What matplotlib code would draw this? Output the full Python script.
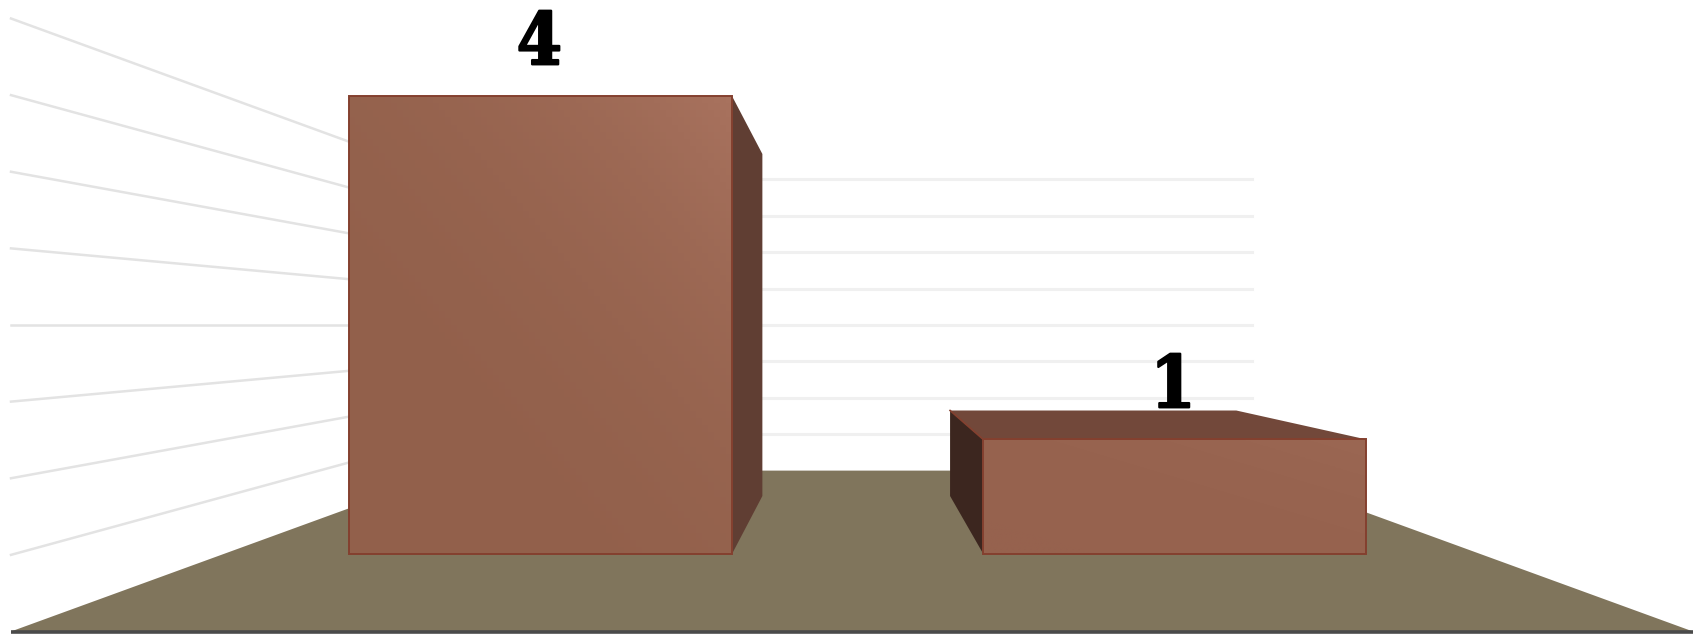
import numpy as np
import matplotlib
matplotlib.use("Agg")
import matplotlib.pyplot as plt
import matplotlib.patheffects as pe
from matplotlib.colors import LinearSegmentedColormap
from matplotlib.patches import Polygon

# chart data
categories = ["A", "B"]
values = [4, 1]
grid_ticks = [0.5, 1.0, 1.5, 2.0, 2.5, 3.0, 3.5, 4.0]

# scene layout, pixels of the 1693x634 canvas
W, H = 1693, 634
CX, CY = 852.0, 325.0      # vanishing point
FRONT_LEFT, FRONT_RIGHT = 11.0, 1693.0
FLOOR_Y = 631.5
FOCAL = 0.905
Y_MAX = 4.0
BAR_WIDTH = 0.61
BAR_CENTERS = [0.504, 1.514]
BAR_Z = (0.308, 0.717)

FLOOR = "#80755c"
EDGE = "#84402f"
BAR_SIDE = "#603e33"
BAR_SIDE_DARK = "#3c261f"
BAR_TOP = "#72483a"
WALL_LEFT = "#e3e3e3"
WALL_BACK = "#f0f0f0"
BASE_LINE = "#4a4a4a"


def project(x, y, z):
    """Category x, value y and depth z (0 front, 1 back) to canvas pixels."""
    s = FOCAL / (FOCAL + z)
    half_w = (FRONT_RIGHT - FRONT_LEFT) / 2
    half_h = FLOOR_Y - CY
    px = CX + (x / len(categories) * 2 - 1) * half_w * s
    py = CY + (1 - y / (Y_MAX / 2)) * half_h * s
    return px, py


def face(ax, corners, color, zorder, edge=EDGE, lw=1.4):
    poly = Polygon([project(*c) for c in corners], closed=True, facecolor=color,
                   edgecolor=edge, linewidth=lw, joinstyle="miter", zorder=zorder)
    ax.add_patch(poly)
    return poly


fig = plt.figure(figsize=(W / 100, H / 100), dpi=100)
ax = fig.add_axes([0, 0, 1, 1])

# floor and walls
face(ax, [(0, 0, 0), (2, 0, 0), (2, 0, 1), (0, 0, 1)], FLOOR, 1, edge="none", lw=0)
for tick in grid_ticks:
    p0, p1, p2 = project(0, tick, 0), project(0, tick, 1), project(2, tick, 1)
    ax.plot([p0[0], p1[0]], [p0[1], p1[1]], color=WALL_LEFT, lw=1.8, zorder=0.5)
    ax.plot([p1[0], p2[0]], [p1[1], p2[1]], color=WALL_BACK, lw=2.2, zorder=0.5)
b0, b1 = project(0, 0, 0), project(2, 0, 0)
ax.plot([b0[0], b1[0]], [b0[1], b1[1]], color=BASE_LINE, lw=2.6, zorder=2,
        solid_capstyle="butt")

# bars
shades = [("#92604b", "#a8725e"), ("#96624e", "#9b6753")]
u, v = np.meshgrid(np.linspace(0, 1, 64), np.linspace(0, 1, 64))
for i, val in enumerate(values):
    x0 = BAR_CENTERS[i] - BAR_WIDTH / 2
    x1 = BAR_CENTERS[i] + BAR_WIDTH / 2
    zf, zb = BAR_Z
    # side face towards the vanishing point
    if project(x1, 0, zf)[0] < CX:
        face(ax, [(x1, 0, zf), (x1, val, zf), (x1, val, zb), (x1, 0, zb)], BAR_SIDE, 3,
             edge="none", lw=0)
    else:
        face(ax, [(x0, 0, zf), (x0, val, zf), (x0, val, zb), (x0, 0, zb)], BAR_SIDE_DARK, 3,
             edge="none", lw=0)
    # top face only shows below eye level
    if project(x0, val, zf)[1] > CY:
        face(ax, [(x0, val, zf), (x1, val, zf), (x1, val, zb), (x0, val, zb)], BAR_TOP, 3,
             edge="none", lw=0)
        q0, q1 = project(x0, val, zf), project(x0, val, zb)
        ax.plot([q0[0], q1[0]], [q0[1], q1[1]], color=EDGE, lw=1.2, zorder=3.5)
    # front face with a soft diagonal gradient
    front = face(ax, [(x0, 0, zf), (x1, 0, zf), (x1, val, zf), (x0, val, zf)], "none", 5)
    left, bottom = project(x0, 0, zf)
    right, top = project(x1, val, zf)
    cmap = LinearSegmentedColormap.from_list("bar", shades[i])
    img = ax.imshow(((u + v) / 2) ** 3, cmap=cmap, vmin=0, vmax=1, aspect="auto",
                    origin="lower", extent=(left, right, bottom, top), zorder=4)
    img.set_clip_path(front)
    # value label
    ax.text((left + right) / 2 - 1.5, top - 32, str(val), ha="center", va="baseline",
            fontsize=52, fontweight="bold", family="DejaVu Serif", stretch="condensed",
            color="black", zorder=6,
            path_effects=[pe.withStroke(linewidth=1.6, foreground="black")])

ax.set_xlim(0, W)
ax.set_ylim(H, 0)
ax.axis("off")

fig.savefig("out.png", dpi=100, facecolor="white")
